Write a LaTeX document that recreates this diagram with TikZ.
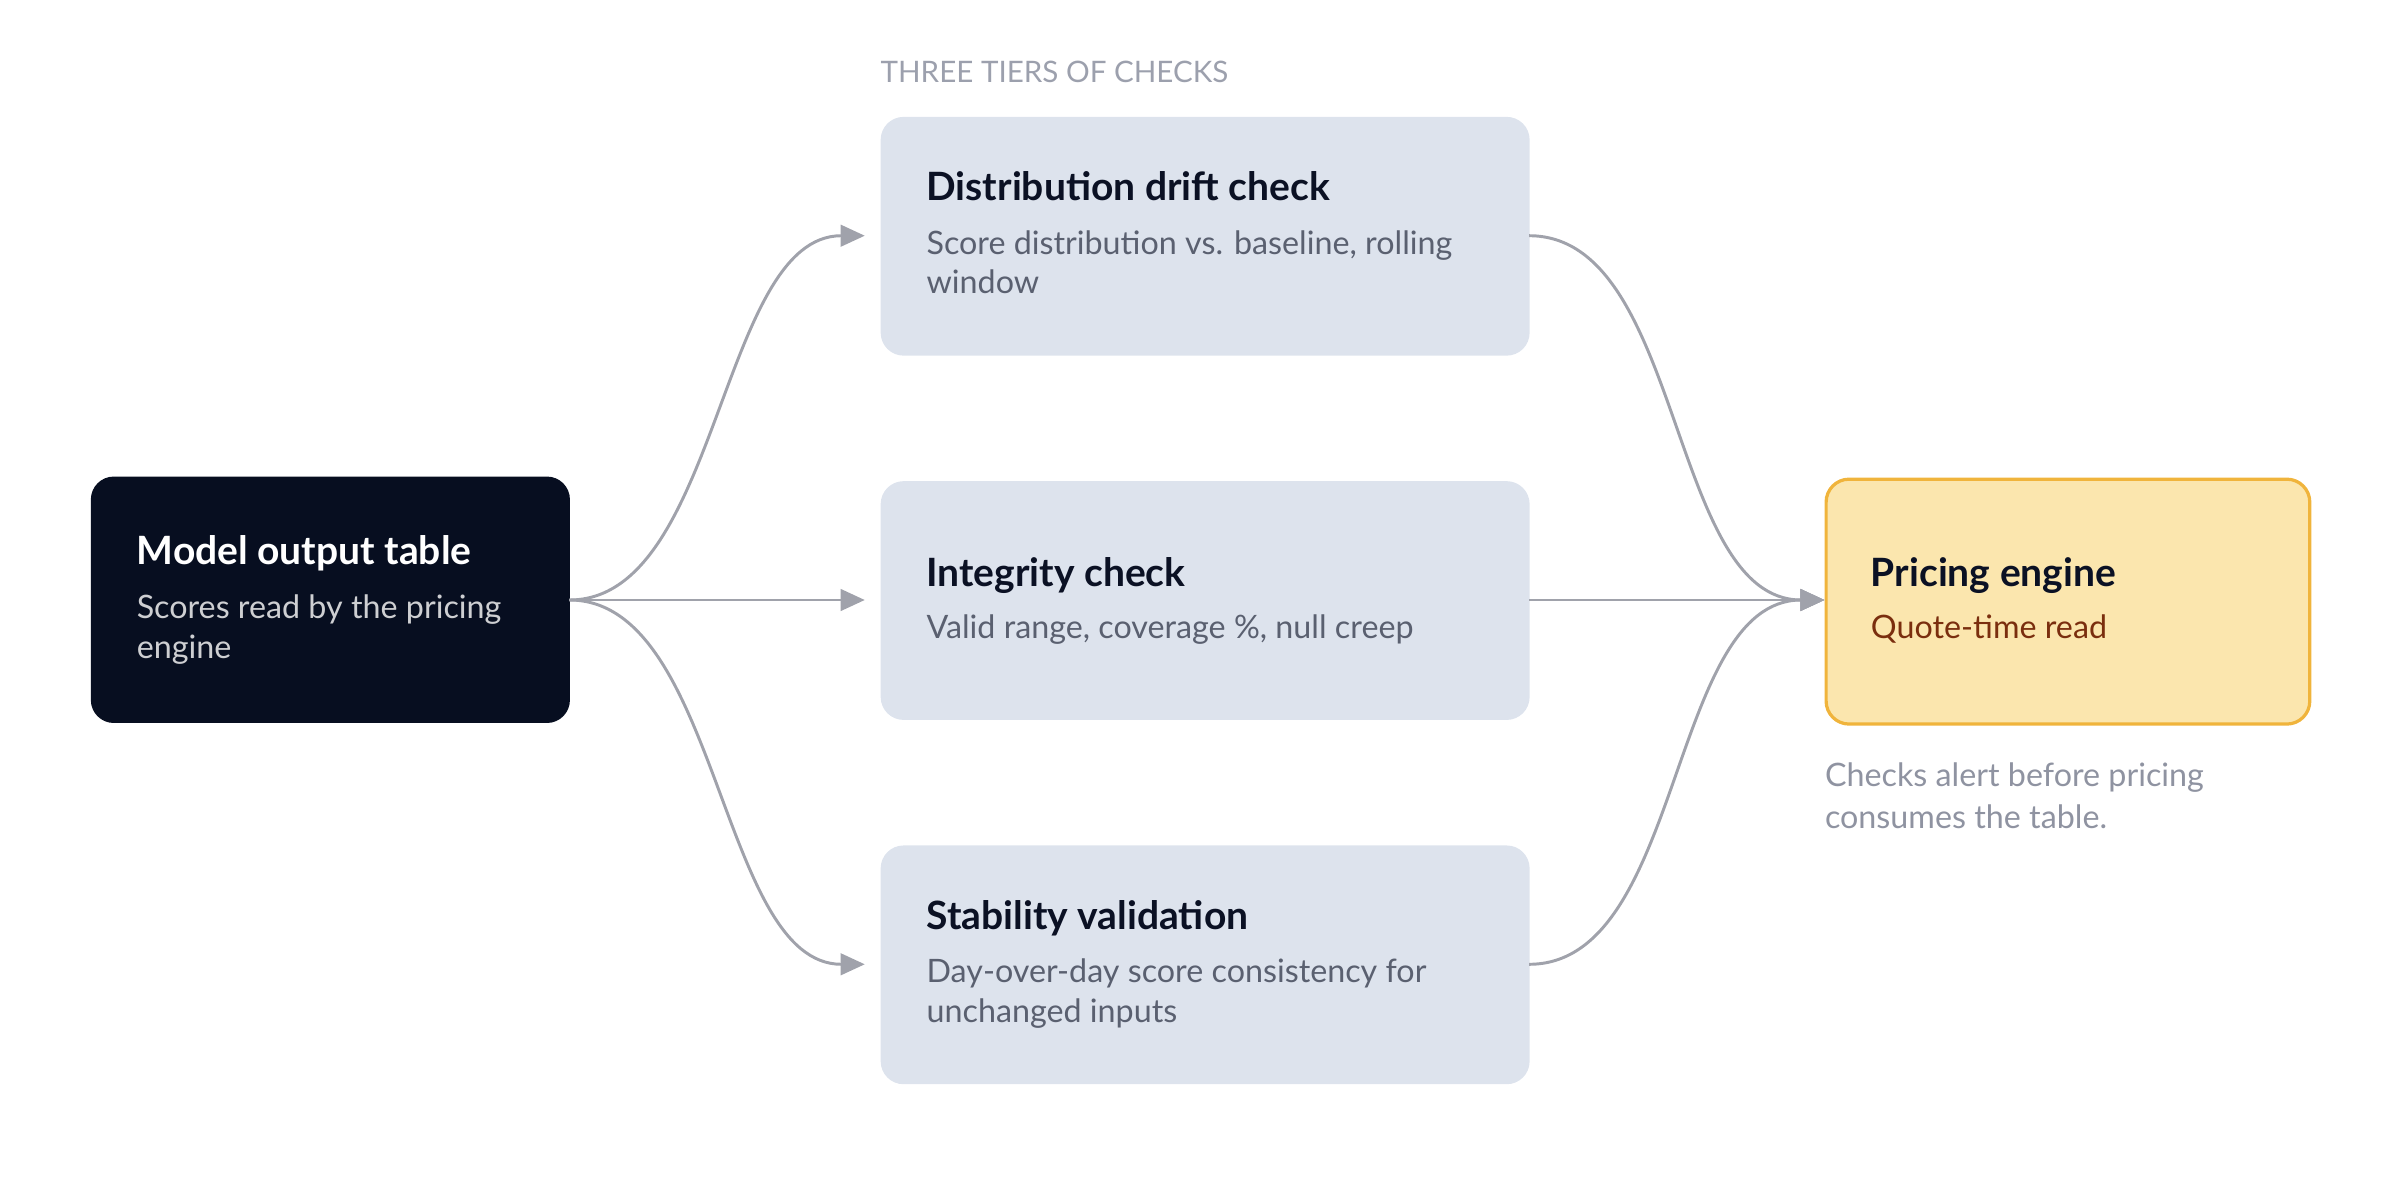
\documentclass[tikz,border=0pt]{standalone}
\usepackage{fontspec}
\setmainfont{Lato}
\usetikzlibrary{calc,arrows.meta}
\definecolor{dark}{HTML}{070E20}
\definecolor{tier}{HTML}{DDE3ED}
\definecolor{ink}{HTML}{0B1124}
\definecolor{sub}{HTML}{5A6070}
\definecolor{edge}{HTML}{A0A2AB}
\definecolor{amberf}{HTML}{FBE6AE}
\definecolor{amberd}{HTML}{F0B43C}
\definecolor{brown}{HTML}{7A2E0E}
\definecolor{muted}{HTML}{9CA0AD}
\newcommand{\tl}[2][14.8pt]{\parbox[t]{9cm}{\raggedright\baselineskip=#1 #2}}
\begin{document}
\begin{tikzpicture}[x=0.02cm,y=-0.02cm,
  box/.style={rectangle,rounded corners=0.3cm,inner sep=0pt,anchor=north west},
  ttl/.style={anchor=base west,inner sep=0pt,font=\fontsize{14.5}{18}\selectfont\bfseries,text=ink},
  sb/.style={anchor=base west,inner sep=0pt,font=\fontsize{12}{14.8}\selectfont,text=sub},
  conn/.style={draw=edge,line width=1.1pt,-{Triangle[length=9pt,width=8pt]}}]
\useasboundingbox (0,0) rectangle (1568,784);
\node[box,fill=dark,minimum width=313*0.02cm,minimum height=161*0.02cm] (m) at (59,311) {};
\node[box,fill=tier,minimum width=424*0.02cm,minimum height=156*0.02cm] (d) at (575,76) {};
\node[box,fill=tier,minimum width=424*0.02cm,minimum height=156*0.02cm] (i) at (575,314) {};
\node[box,fill=tier,minimum width=424*0.02cm,minimum height=156*0.02cm] (s) at (575,552) {};
\node[box,fill=amberf,draw=amberd,line width=1.2pt,minimum width=316*0.02cm,minimum height=160*0.02cm] (p) at (1192,312) {};

\node[anchor=base west,inner sep=0pt,text=muted,font=\fontsize{11}{14}\selectfont] (hdr) at (575,54) {THREE TIERS OF CHECKS};

\node[ttl,text=white] (mt) at (89,369) {Model output table};
\node[sb,text=white!80!dark] (ms) at (89,404) {\tl{Scores read by the pricing\\engine}};
\node[ttl] (dt) at (605,131) {Distribution drift check};
\node[sb] (ds) at (605,166) {\tl{Score distribution vs. baseline, rolling\\window}};
\node[ttl] (it) at (605,383) {Integrity check};
\node[sb] (is) at (605,417) {Valid range, coverage \%, null creep};
\node[ttl] (st) at (605,607) {Stability validation};
\node[sb] (ss) at (605,642) {\tl{Day-over-day score consistency for\\unchanged inputs}};
\node[ttl] (pt) at (1222,383) {Pricing engine};
\node[sb,text=brown] (ps) at (1222,417) {Quote-time read};
\node[sb,text=muted!80!sub] (note) at (1192,514) {\tl[15.5pt]{Checks alert before pricing\\consumes the table.}};

\coordinate (mo) at (372,392);
\coordinate (pi) at (1192,392);
\draw[conn] (mo) .. controls (470,392) and (470,154) .. (565,154);
\draw[conn] (mo) -- (565,392);
\draw[conn] (mo) .. controls (470,392) and (470,630) .. (565,630);
\draw[conn] (999,154) .. controls (1100,154) and (1090,392) .. (pi);
\draw[conn] (999,392) -- (pi);
\draw[conn] (999,630) .. controls (1100,630) and (1090,392) .. (pi);
\end{tikzpicture}
\end{document}
